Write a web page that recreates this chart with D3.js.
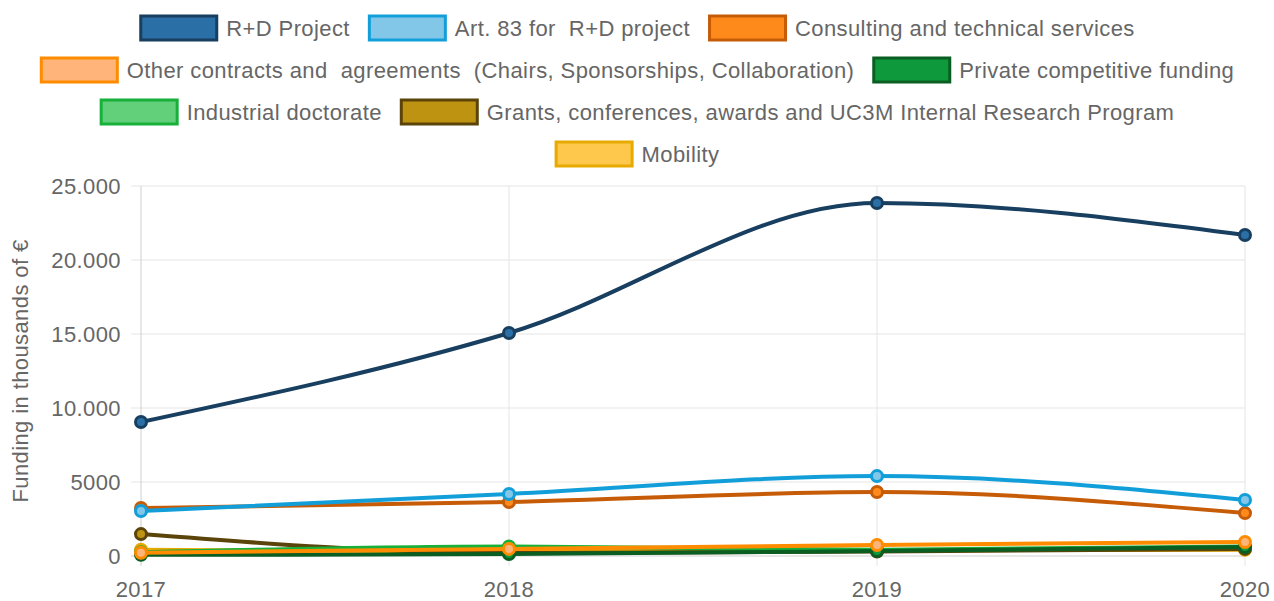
<!DOCTYPE html>
<html>
<head>
<meta charset="utf-8">
<script src="https://cdn.jsdelivr.net/npm/d3@7"></script>
<style>
	body { margin: 0; background: #fff; }
	text { font-family: "Liberation Sans", Arial, sans-serif; fill: #666; white-space: pre; letter-spacing: 0.4px; }
</style>
</head>
<body>
<div id="chart"></div>
<script>
// anni sull'asse x
const years = ["2017", "2018", "2019", "2020"];

// serie (migliaia di euro)
const rdProject = [9050, 15070, 23850, 21690];
const art83 = [3040, 4190, 5400, 3780];
const consulting = [3240, 3650, 4320, 2900];
const otherContracts = [220, 480, 740, 950];
const privateFunding = [80, 130, 340, 600];
const industrialDoctorate = [250, 650, 420, 640];
const grants = [1480, 200, 300, 480];
const mobility = [420, 300, 380, 420];

const seriesNames = [
	"R+D Project",
	"Art. 83 for  R+D project",
	"Consulting and technical services",
	"Other contracts and  agreements  (Chairs, Sponsorships, Collaboration)",
	"Private competitive funding",
	"Industrial doctorate",
	"Grants, conferences, awards and UC3M Internal Research Program",
	"Mobility"
];
const seriesValues = [rdProject, art83, consulting, otherContracts, privateFunding, industrialDoctorate, grants, mobility];
const borderColors = ["#183f60", "#129fd9", "#c65c07", "#ff8c00", "#0b5e22", "#16b03a", "#5b440a", "#e8a900"];
const fillColors = ["#2a6fa5", "#82c6e8", "#ff8a1c", "#ffb47a", "#0e9a3c", "#62cf7b", "#bf9312", "#fdc84c"];

const yTicks = [0, 5000, 10000, 15000, 20000, 25000];

const W = 1274, H = 601;
const margin = { top: 186, right: 29, bottom: 45, left: 141 };
const FONT = "22px";

const svg = d3.select("#chart").append("svg")
	.attr("width", W)
	.attr("height", H);

const x = d3.scalePoint().domain(years).range([margin.left, W - margin.right]);
const y = d3.scaleLinear().domain([0, 25000]).range([H - margin.bottom, margin.top]);

// formato con punto come separatore delle migliaia (solo sopra 9999)
const fmt = v => v >= 10000 ? d3.format(",")(v).replace(/,/g, ".") : String(v);

// griglia orizzontale + tick
const gy = svg.append("g");
gy.selectAll("line").data(yTicks).enter().append("line")
	.attr("x1", margin.left - 10).attr("x2", W - margin.right)
	.attr("y1", d => y(d)).attr("y2", d => y(d))
	.attr("stroke", d => d === 0 ? "#cfcfcf" : "#e5e5e5").attr("stroke-width", 1);
gy.selectAll("text").data(yTicks).enter().append("text")
	.attr("x", margin.left - 20).attr("y", d => y(d))
	.attr("dy", "0.35em").attr("text-anchor", "end")
	.style("font-size", FONT)
	.text(fmt);

// griglia verticale
const gx = svg.append("g");
gx.selectAll("line").data(years).enter().append("line")
	.attr("x1", d => x(d)).attr("x2", d => x(d))
	.attr("y1", margin.top).attr("y2", H - margin.bottom + 10)
	.attr("stroke", (d, i) => i === 0 ? "#cfcfcf" : "#e5e5e5").attr("stroke-width", 1);
gx.selectAll("text").data(years).enter().append("text")
	.attr("x", d => x(d)).attr("y", H - margin.bottom + 33)
	.attr("dy", "0.35em").attr("text-anchor", "middle")
	.style("font-size", FONT)
	.text(d => d);

// titolo asse y
svg.append("text")
	.attr("transform", "translate(28," + (margin.top + (H - margin.bottom - margin.top) / 2) + ") rotate(-90)")
	.attr("text-anchor", "middle")
	.style("font-size", FONT)
	.text("Funding in thousands of €");

// linee: chart.js disegna l'ultimo dataset sotto, quindi ordine inverso
const line = d3.line()
	.x((d, i) => x(years[i]))
	.y(d => y(d))
	.curve(d3.curveMonotoneX);

const order = d3.range(seriesValues.length).reverse();
order.forEach(k => {
	const g = svg.append("g");
	g.append("path")
		.attr("d", line(seriesValues[k]))
		.attr("fill", "none")
		.attr("stroke", borderColors[k])
		.attr("stroke-width", 4);
	g.selectAll("circle").data(seriesValues[k]).enter().append("circle")
		.attr("cx", (d, i) => x(years[i]))
		.attr("cy", d => y(d))
		.attr("r", 5.5)
		.attr("fill", fillColors[k])
		.attr("stroke", borderColors[k])
		.attr("stroke-width", 3);
});

// legenda su righe centrate
const legendRows = [[0, 1, 2], [3, 4], [5, 6], [7]];
const rowY = [28, 70, 112, 154];
const boxW = 76, boxH = 24, gap = 11, itemGap = 18;
const legend = svg.append("g");
legendRows.forEach((row, r) => {
	const items = row.map(k => {
		const t = legend.append("text")
			.style("font-size", FONT)
			.attr("dy", "0.35em")
			.attr("y", rowY[r])
			.text(seriesNames[k]);
		return { k: k, t: t, w: t.node().getComputedTextLength() };
	});
	const total = d3.sum(items, d => boxW + gap + d.w) + itemGap * (items.length - 1);
	let cx = (W - total) / 2;
	items.forEach(d => {
		legend.append("rect")
			.attr("x", cx + 1.5).attr("y", rowY[r] - boxH / 2)
			.attr("width", boxW).attr("height", boxH)
			.attr("fill", fillColors[d.k])
			.attr("stroke", borderColors[d.k])
			.attr("stroke-width", 3);
		d.t.attr("x", cx + boxW + gap);
		cx += boxW + gap + d.w + itemGap;
	});
});
</script>
</body>
</html>
